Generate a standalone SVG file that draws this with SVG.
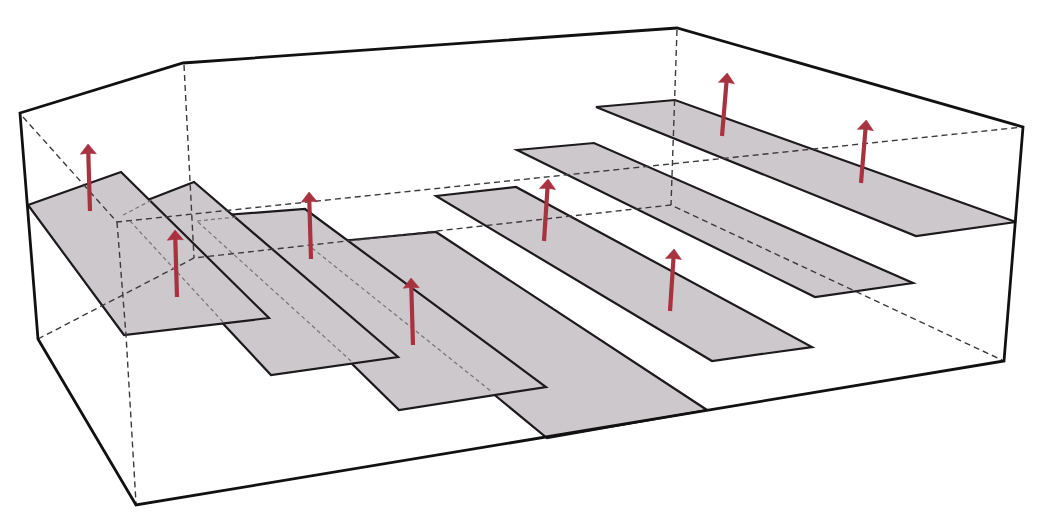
<svg xmlns="http://www.w3.org/2000/svg" width="1050" height="525" viewBox="0 0 1050 525">
<style>
.plate{fill:#cdc8cc;stroke:#1c1a1c;stroke-width:2.2;stroke-linejoin:miter}
.frame{fill:none;stroke:#111;stroke-width:2.8;stroke-linejoin:miter}
.edge{fill:none;stroke:#3c3a3e;stroke-width:1.4;stroke-dasharray:6 4}
.hidden{fill:none;stroke:#77737a;stroke-width:1.2;stroke-dasharray:4 3}
.arrow{fill:none;stroke:#a8323f;stroke-width:4.2;marker-end:url(#head)}
</style>
<defs>
<marker id="head" markerUnits="userSpaceOnUse" markerWidth="14" markerHeight="20" refX="1" refY="10" orient="auto" overflow="visible">
<path d="M0 2 L10 10 L0 18 L0.8 10 Z" fill="#a8323f" stroke="#a8323f" stroke-width="0.6"/>
</marker>
</defs>
<rect width="1050" height="525" fill="#fff"/>
<g id="plates">
<polygon id="plate-g" class="plate" points="596,107 675,100 1016,222 916,236"/>
<polygon id="plate-f" class="plate" points="517,150 594,143 913,283 815,297"/>
<polygon id="plate-e" class="plate" points="436,196 516,187 812,347 712,361"/>
<polygon id="plate-d" class="plate" points="340,241 436,232 707,410 547,438 480,383"/>
<polygon id="plate-c" class="plate" points="225,215 305,209 546,387 399,410 340,352"/>
<polygon id="plate-b" class="plate" points="145,201 194,182 398,357 271,375 215,315"/>
<polygon id="plate-a" class="plate" points="28,205 121,172 269,318 124,335"/>
</g>
<g id="connectors">
<path class="edge" d="M23 117 L117 222 L1023 127"/>
<path class="edge" d="M117 222 L126 335 L136 503"/>
<path class="edge" d="M184 65 L194 258"/>
<path class="edge" d="M38 339 L194 258 L671 205 L1002 360"/>
<path class="edge" d="M677 30 L671 205"/>
<path class="hidden" d="M123 215 L152 200"/>
<path class="hidden" d="M130 221 L224 323"/>
<path class="hidden" d="M197 221 L237 217"/>
<path class="hidden" d="M198 222 L351 361"/>
<path class="hidden" d="M312 248 L492 392"/>
</g>
<g id="frame">
<polygon class="frame" points="20,113 183,63 677,28 1023,127 1004,361 136,505 38,339"/>
</g>
<g id="arrows">
<line id="arrow-1" class="arrow" x1="90" y1="211" x2="88.3" y2="153"/>
<line id="arrow-2" class="arrow" x1="177" y1="297" x2="175.3" y2="239"/>
<line id="arrow-3" class="arrow" x1="311" y1="259" x2="309.3" y2="201"/>
<line id="arrow-4" class="arrow" x1="413" y1="345" x2="411.3" y2="287"/>
<line id="arrow-5" class="arrow" x1="544" y1="241" x2="547.5" y2="188"/>
<line id="arrow-6" class="arrow" x1="670" y1="311" x2="673.5" y2="258"/>
<line id="arrow-7" class="arrow" x1="722" y1="136" x2="726.5" y2="82"/>
<line id="arrow-8" class="arrow" x1="861" y1="183" x2="865.5" y2="129"/>
</g>
</svg>
